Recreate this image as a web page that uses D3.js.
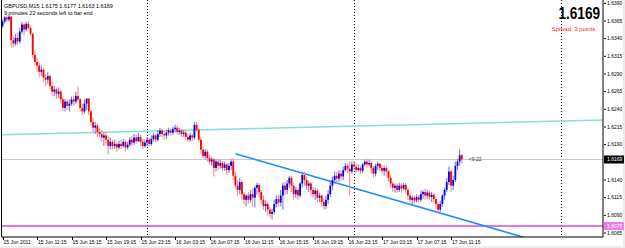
<!DOCTYPE html>
<html lang="en">
<head>
<meta charset="UTF-8">
<title>GBPUSD,M15</title>
<script src="https://d3js.org/d3.v7.min.js"></script>
<style>
  body { margin: 0; background: #fff; }
  text { font-family: "Liberation Sans", Arial, sans-serif; }
</style>
</head>
<body>
<script>
// 15 minute bars, GBPUSD, 15 Jun 2011 07:15 -> 17 Jun 2011 12:30
const opens = [
  1.6358,1.6364,1.6370,1.6367,1.6371,1.6338,1.6333,1.6341,1.6336,1.6350,
  1.6360,1.6353,1.6361,1.6355,1.6347,1.6317,1.6307,1.6302,1.6293,1.6296,
  1.6285,1.6282,1.6287,1.6273,1.6265,1.6268,1.6262,1.6265,1.6254,1.6242,
  1.6251,1.6245,1.6248,1.6254,1.6251,1.6259,1.6254,1.6242,1.6237,1.6248,
  1.6255,1.6237,1.6222,1.6214,1.6217,1.6208,1.6205,1.6200,1.6203,1.6197,
  1.6188,1.6194,1.6188,1.6191,1.6186,1.6191,1.6188,1.6194,1.6186,1.6190,
  1.6197,1.6193,1.6200,1.6195,1.6201,1.6194,1.6188,1.6193,1.6197,1.6191,
  1.6198,1.6203,1.6197,1.6205,1.6210,1.6205,1.6203,1.6207,1.6210,1.6207,
  1.6212,1.6214,1.6208,1.6210,1.6205,1.6207,1.6201,1.6197,1.6203,1.6200,
  1.6218,1.6211,1.6197,1.6183,1.6174,1.6180,1.6171,1.6166,1.6169,1.6157,
  1.6166,1.6160,1.6164,1.6157,1.6162,1.6154,1.6160,1.6166,1.6146,1.6132,
  1.6126,1.6137,1.6120,1.6112,1.6118,1.6112,1.6120,1.6115,1.6129,1.6133,
  1.6123,1.6112,1.6103,1.6106,1.6098,1.6092,1.6095,1.6106,1.6113,1.6108,
  1.6118,1.6132,1.6126,1.6135,1.6143,1.6132,1.6120,1.6126,1.6118,1.6135,
  1.6147,1.6140,1.6132,1.6135,1.6126,1.6120,1.6125,1.6115,1.6118,1.6109,
  1.6103,1.6112,1.6120,1.6132,1.6140,1.6146,1.6142,1.6149,1.6145,1.6154,
  1.6160,1.6156,1.6152,1.6162,1.6159,1.6154,1.6157,1.6153,1.6162,1.6166,
  1.6162,1.6164,1.6157,1.6149,1.6160,1.6163,1.6157,1.6153,1.6157,1.6152,
  1.6143,1.6135,1.6129,1.6132,1.6126,1.6132,1.6128,1.6133,1.6126,1.6118,
  1.6112,1.6115,1.6111,1.6116,1.6112,1.6120,1.6123,1.6118,1.6122,1.6116,
  1.6119,1.6113,1.6106,1.6098,1.6106,1.6118,1.6126,1.6137,1.6152,1.6132,
  1.6140,1.6160,1.6166,1.6175
];
const highs = [
  1.6367,1.6372,1.6374,1.6375,1.6372,1.6344,1.6347,1.6348,1.6355,1.6364,
  1.6362,1.6364,1.6365,1.6358,1.6348,1.6324,1.6313,1.6307,1.6302,1.6299,
  1.6290,1.6293,1.6289,1.6279,1.6273,1.6271,1.6271,1.6268,1.6258,1.6255,
  1.6254,1.6254,1.6258,1.6259,1.6265,1.6272,1.6256,1.6248,1.6254,1.6256,
  1.6256,1.6239,1.6228,1.6222,1.6220,1.6214,1.6211,1.6208,1.6207,1.6203,
  1.6200,1.6197,1.6197,1.6194,1.6195,1.6197,1.6198,1.6197,1.6194,1.6201,
  1.6203,1.6205,1.6204,1.6207,1.6204,1.6198,1.6197,1.6201,1.6200,1.6203,
  1.6207,1.6205,1.6210,1.6214,1.6212,1.6210,1.6211,1.6214,1.6212,1.6215,
  1.6218,1.6217,1.6214,1.6212,1.6211,1.6210,1.6205,1.6207,1.6205,1.6222,
  1.6222,1.6214,1.6200,1.6187,1.6184,1.6183,1.6176,1.6173,1.6171,1.6169,
  1.6169,1.6169,1.6167,1.6166,1.6164,1.6164,1.6169,1.6171,1.6152,1.6140,
  1.6143,1.6140,1.6123,1.6120,1.6123,1.6126,1.6128,1.6132,1.6136,1.6135,
  1.6126,1.6118,1.6111,1.6109,1.6102,1.6099,1.6112,1.6118,1.6119,1.6126,
  1.6136,1.6137,1.6140,1.6146,1.6146,1.6136,1.6130,1.6129,1.6137,1.6152,
  1.6152,1.6145,1.6139,1.6137,1.6130,1.6129,1.6128,1.6122,1.6120,1.6113,
  1.6118,1.6125,1.6137,1.6145,1.6152,1.6152,1.6154,1.6153,1.6159,1.6164,
  1.6163,1.6166,1.6166,1.6167,1.6163,1.6162,1.6160,1.6164,1.6169,1.6169,
  1.6169,1.6167,1.6160,1.6163,1.6166,1.6164,1.6162,1.6160,1.6160,1.6154,
  1.6147,1.6137,1.6135,1.6135,1.6136,1.6135,1.6136,1.6136,1.6129,1.6122,
  1.6118,1.6118,1.6120,1.6119,1.6125,1.6126,1.6128,1.6126,1.6125,1.6123,
  1.6122,1.6116,1.6109,1.6111,1.6120,1.6129,1.6143,1.6159,1.6154,1.6146,
  1.6166,1.6170,1.6183,1.6177
];
const lows = [
  1.6355,1.6361,1.6364,1.6364,1.6327,1.6328,1.6330,1.6331,1.6333,1.6347,
  1.6344,1.6350,1.6353,1.6344,1.6313,1.6302,1.6293,1.6285,1.6287,1.6279,
  1.6273,1.6276,1.6268,1.6259,1.6259,1.6255,1.6256,1.6248,1.6237,1.6237,
  1.6239,1.6237,1.6245,1.6245,1.6248,1.6251,1.6237,1.6232,1.6234,1.6239,
  1.6232,1.6217,1.6208,1.6205,1.6201,1.6200,1.6194,1.6188,1.6190,1.6176,
  1.6183,1.6183,1.6184,1.6180,1.6183,1.6184,1.6186,1.6180,1.6183,1.6187,
  1.6188,1.6190,1.6191,1.6193,1.6188,1.6184,1.6186,1.6188,1.6187,1.6188,
  1.6194,1.6193,1.6194,1.6201,1.6201,1.6197,1.6198,1.6203,1.6203,1.6204,
  1.6207,1.6204,1.6204,1.6201,1.6201,1.6197,1.6194,1.6194,1.6195,1.6197,
  1.6208,1.6193,1.6177,1.6171,1.6169,1.6166,1.6162,1.6160,1.6145,1.6152,
  1.6154,1.6156,1.6152,1.6153,1.6147,1.6150,1.6154,1.6140,1.6128,1.6118,
  1.6120,1.6112,1.6105,1.6103,1.6106,1.6108,1.6102,1.6101,1.6119,1.6115,
  1.6106,1.6098,1.6095,1.6089,1.6087,1.6084,1.6091,1.6101,1.6102,1.6103,
  1.6098,1.6119,1.6120,1.6129,1.6123,1.6112,1.6115,1.6112,1.6115,1.6129,
  1.6132,1.6126,1.6123,1.6118,1.6115,1.6112,1.6108,1.6109,1.6103,1.6098,
  1.6099,1.6106,1.6116,1.6126,1.6135,1.6136,1.6137,1.6139,1.6140,1.6152,
  1.6150,1.6118,1.6149,1.6154,1.6150,1.6152,1.6149,1.6150,1.6159,1.6157,
  1.6159,1.6149,1.6143,1.6145,1.6154,1.6152,1.6149,1.6146,1.6145,1.6137,
  1.6129,1.6123,1.6122,1.6122,1.6123,1.6122,1.6125,1.6122,1.6112,1.6108,
  1.6105,1.6106,1.6108,1.6108,1.6109,1.6113,1.6112,1.6113,1.6111,1.6109,
  1.6108,1.6099,1.6094,1.6095,1.6102,1.6112,1.6123,1.6133,1.6123,1.6126,
  1.6137,1.6154,1.6160,1.6163
];
const closes = [
  1.6364,1.6370,1.6367,1.6371,1.6338,1.6333,1.6341,1.6336,1.6350,1.6360,
  1.6353,1.6361,1.6355,1.6347,1.6317,1.6307,1.6302,1.6293,1.6296,1.6285,
  1.6282,1.6287,1.6273,1.6265,1.6268,1.6262,1.6265,1.6254,1.6242,1.6251,
  1.6245,1.6248,1.6254,1.6251,1.6259,1.6254,1.6242,1.6237,1.6248,1.6255,
  1.6237,1.6222,1.6214,1.6217,1.6208,1.6205,1.6200,1.6203,1.6197,1.6188,
  1.6194,1.6188,1.6191,1.6186,1.6191,1.6188,1.6194,1.6186,1.6190,1.6197,
  1.6193,1.6200,1.6195,1.6201,1.6194,1.6188,1.6193,1.6197,1.6191,1.6198,
  1.6203,1.6197,1.6205,1.6210,1.6205,1.6203,1.6207,1.6210,1.6207,1.6212,
  1.6214,1.6208,1.6210,1.6205,1.6207,1.6201,1.6197,1.6203,1.6200,1.6218,
  1.6211,1.6197,1.6183,1.6174,1.6180,1.6171,1.6166,1.6169,1.6157,1.6166,
  1.6160,1.6164,1.6157,1.6162,1.6154,1.6160,1.6166,1.6146,1.6132,1.6126,
  1.6137,1.6120,1.6112,1.6118,1.6112,1.6120,1.6115,1.6129,1.6133,1.6123,
  1.6112,1.6103,1.6106,1.6098,1.6092,1.6095,1.6106,1.6113,1.6108,1.6118,
  1.6132,1.6126,1.6135,1.6143,1.6132,1.6120,1.6126,1.6118,1.6135,1.6147,
  1.6140,1.6132,1.6135,1.6126,1.6120,1.6125,1.6115,1.6118,1.6109,1.6103,
  1.6112,1.6120,1.6132,1.6140,1.6146,1.6142,1.6149,1.6145,1.6154,1.6160,
  1.6156,1.6152,1.6162,1.6159,1.6154,1.6157,1.6153,1.6162,1.6166,1.6162,
  1.6164,1.6157,1.6149,1.6160,1.6163,1.6157,1.6153,1.6157,1.6152,1.6143,
  1.6135,1.6129,1.6132,1.6126,1.6132,1.6128,1.6133,1.6126,1.6118,1.6112,
  1.6115,1.6111,1.6116,1.6112,1.6120,1.6123,1.6118,1.6122,1.6116,1.6119,
  1.6113,1.6106,1.6098,1.6106,1.6118,1.6126,1.6137,1.6152,1.6132,1.6140,
  1.6160,1.6166,1.6175,1.6169
];

const parseT = d3.timeParse("%Y-%m-%d %H:%M");
const firstBar = parseT("2011-06-15 07:15");

const yTicks = [1.6390,1.6365,1.6340,1.6315,1.6290,1.6265,1.6240,1.6215,1.6190,1.6165,1.6140,1.6115,1.6090,1.6065];
const xTickTimes = ["2011-06-15 07:15","2011-06-15 11:15","2011-06-15 15:15","2011-06-15 19:15","2011-06-15 23:15",
  "2011-06-16 03:15","2011-06-16 07:15","2011-06-16 11:15","2011-06-16 15:15","2011-06-16 19:15","2011-06-16 23:15",
  "2011-06-17 03:15","2011-06-17 07:15","2011-06-17 11:15"];
const xTickLabels = ["15 Jun 2011","15 Jun 11:15","15 Jun 15:15","15 Jun 19:15","15 Jun 23:15",
  "16 Jun 03:15","16 Jun 07:15","16 Jun 11:15","16 Jun 15:15","16 Jun 19:15","16 Jun 23:15",
  "17 Jun 03:15","17 Jun 07:15","17 Jun 11:15"];
const daySeparators = ["2011-06-16 00:00","2011-06-17 00:00","2011-06-18 00:00"];

// drawn objects
const cyanTrend = [["2011-06-15 07:15", 1.6204], ["2011-06-17 12:30", 1.6220]];
const blueTrend = [["2011-06-16 10:15", 1.6177], ["2011-06-17 09:45", 1.6094]];
const supportLevel = 1.6075;
const bid = 1.6169;

const W = 625, H = 248;
const plotLeft = 1.5, plotRight = 603, plotTop = 0, plotBottom = 237;

const svg = d3.select("body").append("svg")
  .attr("width", W).attr("height", H);

const x = d3.scaleTime()
  .domain([parseT("2011-06-16 00:00"), parseT("2011-06-18 00:00")])
  .range([147, 561]);
const y = d3.scaleLinear()
  .domain([1.6065, 1.6390])
  .range([233, 3.3]);

svg.append("clipPath").attr("id", "plot")
  .append("rect").attr("x", plotLeft).attr("y", plotTop)
  .attr("width", plotRight - plotLeft).attr("height", plotBottom - plotTop);

// light window edges
svg.append("rect").attr("x", 0).attr("y", 246).attr("width", W).attr("height", 2).attr("fill", "#ececec");
svg.append("rect").attr("x", 623).attr("y", 0).attr("width", 2).attr("height", H).attr("fill", "#ececec");

const plot = svg.append("g").attr("clip-path", "url(#plot)");

// day separators
plot.selectAll(".sep")
  .data(daySeparators)
  .enter().append("line")
  .attr("class", "sep")
  .attr("x1", d => Math.round(x(parseT(d))) + 0.5)
  .attr("x2", d => Math.round(x(parseT(d))) + 0.5)
  .attr("y1", 0).attr("y2", plotBottom)
  .attr("stroke", "#000").attr("stroke-width", 1)
  .attr("stroke-dasharray", "1,2")
  .attr("shape-rendering", "crispEdges");

// bid line
plot.append("line")
  .attr("x1", plotLeft).attr("x2", plotRight)
  .attr("y1", y(bid)).attr("y2", y(bid))
  .attr("stroke", "#c8c8c8").attr("stroke-width", 1);

// support level
plot.append("line")
  .attr("x1", plotLeft).attr("x2", plotRight)
  .attr("y1", y(supportLevel)).attr("y2", y(supportLevel))
  .attr("stroke", "#e040e0").attr("stroke-width", 1.4);

// trend lines, extended to the right edge
function ray(pts, extendLeft) {
  const t0 = parseT(pts[0][0]), t1 = parseT(pts[1][0]);
  const x0 = x(t0), x1 = x(t1), y0 = y(pts[0][1]), y1 = y(pts[1][1]);
  const k = (y1 - y0) / (x1 - x0);
  const xa = extendLeft ? plotLeft : x0;
  return [[xa, y0 + k * (xa - x0)], [plotRight, y0 + k * (plotRight - x0)]];
}
plot.append("path")
  .attr("d", d3.line()(ray(cyanTrend, true)))
  .attr("stroke", "#7fe3da").attr("stroke-width", 1.4).attr("fill", "none");
plot.append("path")
  .attr("d", d3.line()(ray(blueTrend, false)))
  .attr("stroke", "#1e8fff").attr("stroke-width", 1.6).attr("fill", "none");

// candles
const bars = opens.map((o, i) => ({
  t: d3.timeMinute.offset(firstBar, i * 15),
  o: o, h: highs[i], l: lows[i], c: closes[i]
}));

const candle = plot.selectAll(".bar")
  .data(bars)
  .enter().append("g")
  .attr("class", "bar");

candle.append("line")
  .attr("x1", d => x(d.t)).attr("x2", d => x(d.t))
  .attr("y1", d => y(d.h)).attr("y2", d => y(d.l))
  .attr("stroke", d => d.c >= d.o ? "#7a7af0" : "#ff8a8a")
  .attr("stroke-width", 1.1);

candle.append("rect")
  .attr("x", d => x(d.t) - 0.9)
  .attr("width", 1.8)
  .attr("y", d => Math.min(y(d.o), y(d.c)))
  .attr("height", d => Math.max(1, Math.abs(y(d.o) - y(d.c))))
  .attr("fill", d => d.c >= d.o ? "#0000ee" : "#ff0000");

// frame: left, right and bottom edges
svg.append("path")
  .attr("d", d3.line()([[plotLeft, 0], [plotLeft, plotBottom], [plotRight, plotBottom], [plotRight, 0]]))
  .attr("fill", "none").attr("stroke", "#000").attr("stroke-width", 1);

// right price axis
const boxes = [bid, supportLevel];
const shown = yTicks.filter(t => boxes.every(b => Math.abs(y(t) - y(b)) > 5));
svg.selectAll(".ytick")
  .data(shown)
  .enter().append("line")
  .attr("x1", plotRight + 1).attr("x2", plotRight + 3)
  .attr("y1", d => y(d)).attr("y2", d => y(d))
  .attr("stroke", "#000");
svg.selectAll(".ylab")
  .data(shown)
  .enter().append("text")
  .attr("x", plotRight + 4).attr("y", d => y(d) + 1.8)
  .attr("font-size", 5).attr("fill", "#000")
  .text(d => d.toFixed(4));

function priceBox(p, bg) {
  svg.append("rect")
    .attr("x", plotRight + 1).attr("y", y(p) - 4)
    .attr("width", 20).attr("height", 8).attr("fill", bg);
  svg.append("text")
    .attr("x", plotRight + 4).attr("y", y(p) + 1.8)
    .attr("font-size", 5).attr("fill", "#fff")
    .text(p.toFixed(4));
}
priceBox(bid, "#000");
priceBox(supportLevel, "#ea7cea");

// time axis
const xt = xTickTimes.map(parseT);
svg.selectAll(".xtick")
  .data(xt)
  .enter().append("line")
  .attr("x1", d => Math.round(x(d)) + 0.5).attr("x2", d => Math.round(x(d)) + 0.5)
  .attr("y1", plotBottom).attr("y2", plotBottom + 3)
  .attr("stroke", "#000");
svg.selectAll(".xlab")
  .data(xt)
  .enter().append("text")
  .attr("x", d => x(d) + 1).attr("y", 244)
  .attr("font-size", 5).attr("fill", "#000")
  .text((d, i) => xTickLabels[i]);

// header texts
svg.append("text").attr("x", 4).attr("y", 8).attr("font-size", 5.5)
  .text("GBPUSD,M15  1.6175 1.6177 1.6163 1.6169");
svg.append("text").attr("x", 4).attr("y", 15).attr("font-size", 5.5)
  .text("9 minutes 22 seconds left to bar end");

// big bid, condensed horizontally
svg.append("text")
  .attr("transform", "translate(600,19) scale(0.8,1)")
  .attr("text-anchor", "end").attr("font-size", 17).attr("font-weight", "bold")
  .text(bid.toFixed(4));
svg.append("text").attr("x", 597).attr("y", 31)
  .attr("text-anchor", "end").attr("font-size", 6).attr("fill", "#ff2020")
  .text("Spread: 3 points.");

// countdown next to last bar
const lastBar = bars[bars.length - 1];
svg.append("text").attr("x", x(lastBar.t) + 7).attr("y", y(bid) + 1.8)
  .attr("font-size", 5).attr("fill", "#333")
  .text("<9:22");
</script>
</body>
</html>
